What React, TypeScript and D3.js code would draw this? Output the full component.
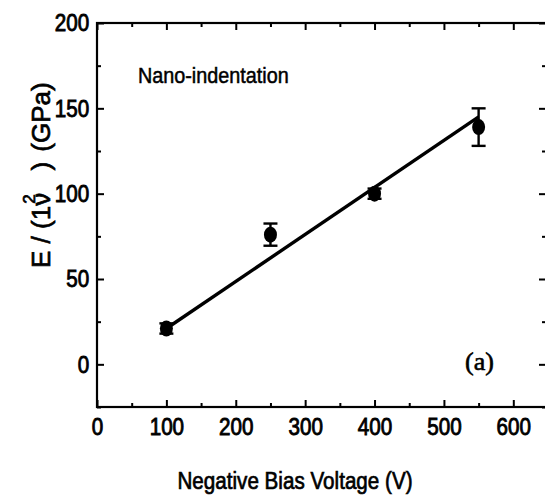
import * as d3 from "d3";
import { useEffect, useRef } from "react";

// Measured points: negative bias voltage (V) vs E/(1-v^2) (GPa)
const voltages = [100, 250, 400, 550];
const modulus = [21, 76, 100, 139];
const errors = [3, 6.5, 3, 11];

// Linear fit drawn in the figure (end points)
const fitVoltages = [100, 550];
const fitModulus = [21, 145];

const xTicks = [0, 100, 200, 300, 400, 500, 600];
const xMinorTicks = [50, 150, 250, 350, 450, 550, 650];
const yTicks = [0, 50, 100, 150, 200];
const yMinorTicks = [-25, 25, 75, 125, 175];

const width = 545;
const height = 500;
const font = "'Liberation Sans', Arial, sans-serif";
const squeeze = 0.86;

export default function App() {
  const svgRef = useRef<SVGSVGElement>(null);

  useEffect(() => {
    if (!svgRef.current) return;
    const svg = d3.select(svgRef.current);
    svg.selectAll("*").remove();

    const left = 97;
    const right = 548;
    const top = 23;
    const bottom = 407;

    const x = d3.scaleLinear().domain([0, 650]).range([left, right]);
    const y = d3.scaleLinear().domain([-25, 200]).range([bottom, top]);

    svg.append("rect").attr("width", width).attr("height", height).attr("fill", "#fff");

    // Frame
    svg
      .append("rect")
      .attr("x", left)
      .attr("y", top)
      .attr("width", right - left)
      .attr("height", bottom - top)
      .attr("fill", "none")
      .attr("stroke", "#000")
      .attr("stroke-width", 2.2);

    const styleAxis = (g: d3.Selection<SVGGElement, unknown, null, undefined>) => {
      g.select(".domain").remove();
      g.selectAll(".tick line").attr("stroke", "#000").attr("stroke-width", 2);
    };

    const styleLabels = (g: d3.Selection<SVGGElement, unknown, null, undefined>) => {
      g.selectAll(".tick text")
        .style("font-family", font)
        .style("font-size", "24px")
        .attr("fill", "#000")
        .attr("stroke", "#000")
        .attr("stroke-width", 0.9)
        .attr("transform", `scale(${squeeze},1)`);
    };

    // Major ticks (inward) with labels
    svg
      .append("g")
      .attr("transform", `translate(0,${bottom})`)
      .call(d3.axisBottom(x).tickValues(xTicks).tickSizeInner(-7).tickSizeOuter(0).tickPadding(11).tickFormat(d3.format("d")))
      .call(styleAxis)
      .call(styleLabels);

    svg
      .append("g")
      .attr("transform", `translate(0,${bottom})`)
      .call(d3.axisBottom(x).tickValues(xMinorTicks).tickSizeInner(-4).tickSizeOuter(0).tickFormat(() => ""))
      .call(styleAxis);

    svg
      .append("g")
      .attr("transform", `translate(0,${top})`)
      .call(d3.axisTop(x).tickValues(xTicks).tickSizeInner(-7).tickSizeOuter(0).tickFormat(() => ""))
      .call(styleAxis);

    svg
      .append("g")
      .attr("transform", `translate(0,${top})`)
      .call(d3.axisTop(x).tickValues(xMinorTicks).tickSizeInner(-4).tickSizeOuter(0).tickFormat(() => ""))
      .call(styleAxis);

    svg
      .append("g")
      .attr("transform", `translate(${left},0)`)
      .call(d3.axisLeft(y).tickValues(yTicks).tickSizeInner(-7).tickSizeOuter(0).tickPadding(9).tickFormat(d3.format("d")))
      .call(styleAxis)
      .call(styleLabels);

    svg
      .append("g")
      .attr("transform", `translate(${left},0)`)
      .call(d3.axisLeft(y).tickValues(yMinorTicks).tickSizeInner(-4).tickSizeOuter(0).tickFormat(() => ""))
      .call(styleAxis);

    svg
      .append("g")
      .attr("transform", `translate(${right - 2},0)`)
      .call(d3.axisRight(y).tickValues(yTicks).tickSizeInner(-7).tickSizeOuter(0).tickFormat(() => ""))
      .call(styleAxis);

    svg
      .append("g")
      .attr("transform", `translate(${right - 2},0)`)
      .call(d3.axisRight(y).tickValues(yMinorTicks).tickSizeInner(-4).tickSizeOuter(0).tickFormat(() => ""))
      .call(styleAxis);

    // Fit line
    const fit = fitVoltages.map((v, i) => [v, fitModulus[i]] as [number, number]);
    svg
      .append("path")
      .datum(fit)
      .attr("d", d3.line<[number, number]>().x((d) => x(d[0])).y((d) => y(d[1])))
      .attr("fill", "none")
      .attr("stroke", "#000")
      .attr("stroke-width", 3.4);

    const points = voltages.map((v, i) => ({ v, e: modulus[i], err: errors[i] }));

    // Error bars
    const eb = svg.append("g").attr("stroke", "#000").attr("stroke-width", 2.4);
    points.forEach((d) => {
      const cx = x(d.v);
      eb.append("line").attr("x1", cx).attr("x2", cx).attr("y1", y(d.e - d.err)).attr("y2", y(d.e + d.err));
      eb.append("line").attr("x1", cx - 7).attr("x2", cx + 7).attr("y1", y(d.e - d.err)).attr("y2", y(d.e - d.err));
      eb.append("line").attr("x1", cx - 7).attr("x2", cx + 7).attr("y1", y(d.e + d.err)).attr("y2", y(d.e + d.err));
    });

    // Markers
    svg
      .append("g")
      .selectAll("ellipse")
      .data(points)
      .join("ellipse")
      .attr("cx", (d) => x(d.v))
      .attr("cy", (d) => y(d.e))
      .attr("rx", 6.5)
      .attr("ry", 8)
      .attr("fill", "#000");

    // Annotations
    svg
      .append("text")
      .attr("transform", `translate(138,83) scale(${squeeze + 0.04},1)`)
      .style("font-family", font)
      .style("font-size", "22px")
      .attr("stroke", "#000")
      .attr("stroke-width", 0.5)
      .text("Nano-indentation");

    svg
      .append("text")
      .attr("x", 465)
      .attr("y", 370)
      .style("font-family", "'Liberation Serif', 'Times New Roman', serif")
      .style("font-size", "26px")
      .attr("stroke", "#000")
      .attr("stroke-width", 0.6)
      .text("(a)");

    // Axis titles
    svg
      .append("text")
      .attr("transform", `translate(295,489) scale(${squeeze},1)`)
      .attr("text-anchor", "middle")
      .style("font-family", font)
      .style("font-size", "24px")
      .attr("stroke", "#000")
      .attr("stroke-width", 0.7)
      .text("Negative Bias Voltage (V)");

    const yTitle = svg
      .append("text")
      .attr("transform", "translate(50,268) rotate(-90)")
      .attr("text-anchor", "start")
      .style("font-family", font)
      .style("font-size", "26px")
      .attr("stroke", "#000")
      .attr("stroke-width", 0.7);
    yTitle.append("tspan").text("E / (1ν");
    yTitle.append("tspan").attr("dx", -11).attr("dy", -15).style("font-size", "17px").text("2");
    yTitle.append("tspan").attr("dx", 24).attr("dy", 15).text(")");
    yTitle.append("tspan").attr("dx", 10).text("(GPa)");
  }, []);

  return (
    <svg
      ref={svgRef}
      width={width}
      height={height}
      style={{ position: "absolute", left: 0, top: 0, display: "block" }}
    />
  );
}
